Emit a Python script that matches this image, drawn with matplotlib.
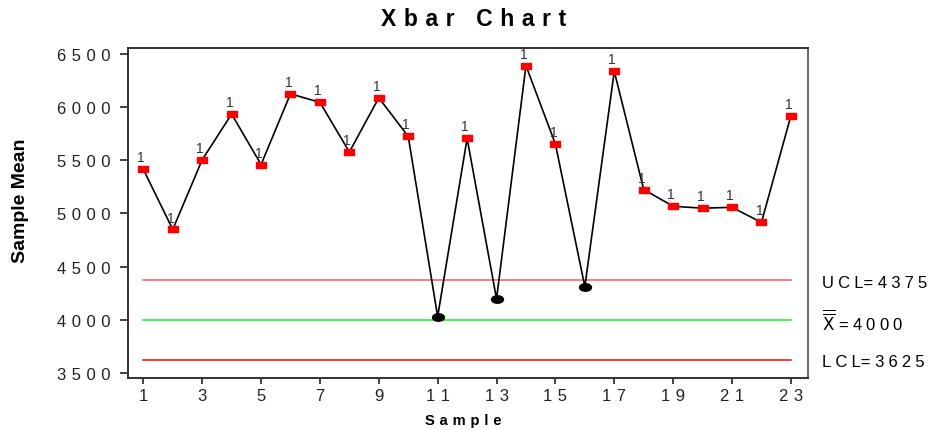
import numpy as np
import matplotlib
matplotlib.use("Agg")
import matplotlib.pyplot as plt
from matplotlib.path import Path
from matplotlib.transforms import Affine2D

# sample means
samples = list(range(1, 24))
means = [5415, 4850, 5505, 5935, 5460, 6125, 6045, 5578, 6088, 5725,
         4030, 5706, 4197, 6390, 5653, 4312, 6337, 5225, 5068, 5050,
         5058, 4916, 5918]
ucl = 4375
center = 4000
lcl = 3625
yticks = [3500, 4000, 4500, 5000, 5500, 6000, 6500]
xticks = list(range(1, 24, 2))

plt.rcParams['font.family'] = ['Liberation Sans', 'DejaVu Sans']


def sp(s, gap='\u2004'):
    # the original software letter-spaces most of its text
    return gap.join(s)


# flagged points (above UCL) get a red box and a "1"
flagged = [m > ucl for m in means]

rect = Path([(-1.5, -1), (1.5, -1), (1.5, 1), (-1.5, 1), (-1.5, -1)],
            [Path.MOVETO, Path.LINETO, Path.LINETO, Path.LINETO, Path.CLOSEPOLY])
oval = Affine2D().scale(1.6, 1.0).transform_path(Path.unit_circle())

fig = plt.figure(figsize=(9.42, 4.31), dpi=100)
ax = fig.add_axes([0.1359, 0.1206, 0.7218, 0.7657])

ax.plot([1, 23], [ucl, ucl], color='#ff5a5a', lw=1.1)
ax.plot([1, 23], [center, center], color='#22ee22', lw=1.1)
ax.plot([1, 23], [lcl, lcl], color='#ff0000', lw=1.1)

ax.plot(samples, means, color='black', lw=1.2, zorder=3)

xs_red = [s for s, f in zip(samples, flagged) if f]
ys_red = [m for m, f in zip(means, flagged) if f]
xs_blk = [s for s, f in zip(samples, flagged) if not f]
ys_blk = [m for m, f in zip(means, flagged) if not f]
ax.plot(xs_red, ys_red, ls='none', marker=rect, ms=7.4, color='#ff0000', zorder=4)
ax.plot(xs_blk, ys_blk, ls='none', marker=oval, ms=8.6, color='black', zorder=4)

for s, m in zip(xs_red, ys_red):
    ax.annotate('1', (s, m), xytext=(-1.5, 8.6), textcoords='offset points',
                ha='center', va='center', fontsize=10, color='#333333')

ax.set_xlim(0.48, 23.58)
ax.set_ylim(3453, 6556)
ax.set_xticks(xticks)
ax.set_xticklabels([sp(str(t)) for t in xticks])
ax.set_yticks(yticks)
ax.set_yticklabels([sp(str(t)) for t in yticks])
ax.tick_params(direction='out', width=1.2, labelsize=12, colors='#222222')
ax.tick_params(axis='x', length=4.3, pad=3)
ax.tick_params(axis='y', length=6, pad=6.5)
for side in ['left', 'bottom', 'top']:
    ax.spines[side].set_color('#333333')
    ax.spines[side].set_linewidth(1.4)
ax.spines['right'].set_color('#666666')
ax.spines['right'].set_linewidth(1.4)

fig.text(473.5 / 942, 1 - 19 / 431, sp('Xbar Chart'), fontsize=16.5,
         fontweight='bold', ha='center', va='center')

ax.set_ylabel('Sample Mean', fontsize=14, fontweight='bold')
ax.yaxis.set_label_coords(-0.158, 0.54)
ax.yaxis.label.set_va('center')

ax.set_xlabel(sp('Sample'), fontsize=10.5, fontweight='bold')
ax.xaxis.set_label_coords(0.493, -0.126)
ax.xaxis.label.set_va('center')

tr = ax.get_yaxis_transform()
g = '\u2005'
ax.text(1.0206, ucl - 20, sp('UCL', g) + '= ' + sp('4375', g), transform=tr,
        fontsize=12, va='center', ha='left', clip_on=False)
ax.text(1.0206, center - 5, r'$\overline{\overline{\mathsf{X}}}$' + ' = ' + sp('4000', g),
        transform=tr, fontsize=12, va='center', ha='left', clip_on=False)
ax.text(1.0206, lcl - 20, sp('LCL', g) + '= ' + sp('3625', g), transform=tr,
        fontsize=12, va='center', ha='left', clip_on=False)

fig.savefig('out.png', dpi=100)
